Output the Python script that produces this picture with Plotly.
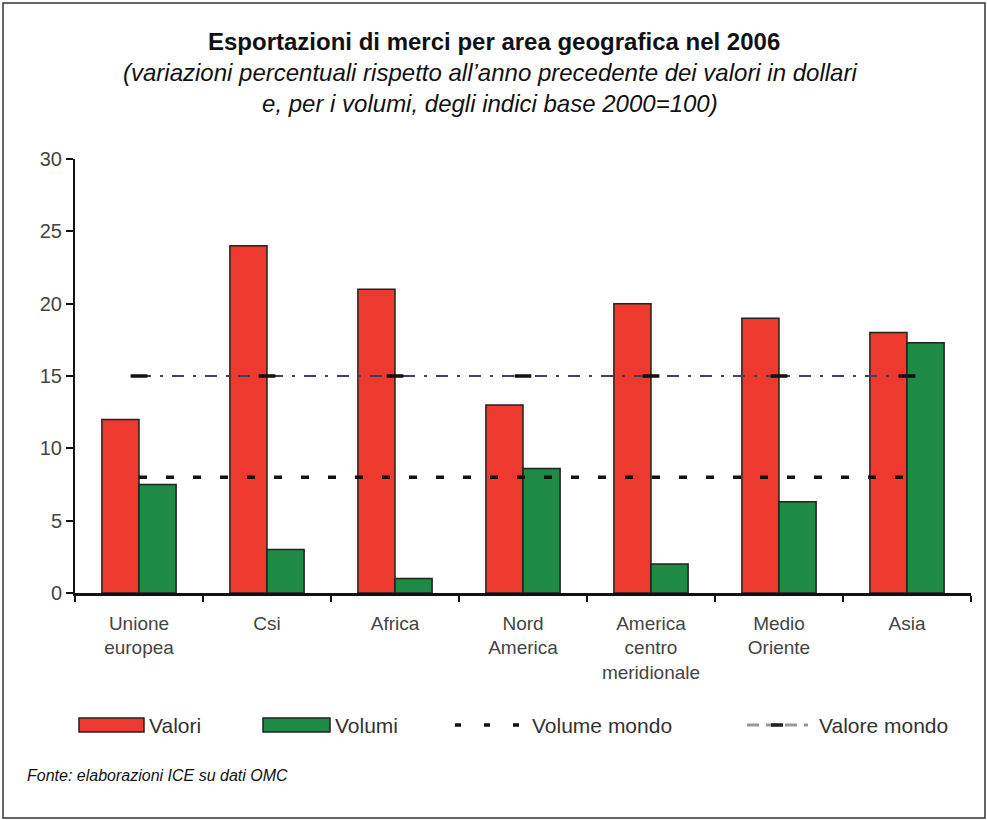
import plotly.graph_objects as go

categories = ["Unione europea", "Csi", "Africa", "Nord America",
              "America centro meridionale", "Medio Oriente", "Asia"]
tick_labels = ["Unione<br>europea", "Csi", "Africa", "Nord<br>America",
               "America<br>centro<br>meridionale", "Medio<br>Oriente", "Asia"]
valori = [12, 24, 21, 13, 20, 19, 18]
volumi = [7.5, 3, 1, 8.6, 2, 6.3, 17.3]
volume_mondo = [8, 8, 8, 8, 8, 8, 8]
valore_mondo = [15, 15, 15, 15, 15, 15, 15]

W, H = 987, 820
L, R, T, B = 75, 16, 159, 227
PW, PH = W - L - R, H - T - B


def xp(px):
    return (px - L) / PW


def yp(py):
    return (H - B - py) / PH


RED = "#ee3a2e"
GREEN = "#1f8a46"
FONT = "Liberation Sans, Arial, sans-serif"

fig = go.Figure()
fig.add_trace(go.Bar(x=categories, y=valori, name="Valori",
                     marker=dict(color=RED, line=dict(color="#222", width=1.5))))
fig.add_trace(go.Bar(x=categories, y=volumi, name="Volumi",
                     marker=dict(color=GREEN, line=dict(color="#222", width=1.5))))
fig.add_trace(go.Scatter(x=categories, y=volume_mondo, name="Volume mondo",
                         mode="lines",
                         line=dict(color="#111", width=3.5, dash="8px,19px")))
fig.add_trace(go.Scatter(x=categories, y=valore_mondo, name="Valore mondo",
                         mode="lines+markers",
                         line=dict(color="#3c4266", width=1.8, dash="12px,9px,3px,9px"),
                         marker=dict(symbol="line-ew", size=12,
                                     line=dict(color="#111", width=3.5))))

shapes = []
annotations = []

# figure border
shapes.append(dict(type="rect", xref="paper", yref="paper",
                   x0=xp(3), x1=xp(985), y0=yp(818), y1=yp(3),
                   line=dict(color="#333", width=1.5), layer="below"))

# title
annotations.append(dict(xref="paper", yref="paper", x=xp(494), y=yp(42),
                        text="<b>Esportazioni di merci per area geografica nel 2006</b>",
                        showarrow=False, font=dict(size=24, color="#111", family=FONT),
                        xanchor="center", yanchor="middle"))
annotations.append(dict(xref="paper", yref="paper", x=xp(490), y=yp(88),
                        text="<i>(variazioni percentuali rispetto all\u2019anno precedente dei valori in dollari<br>e, per i volumi, degli indici base 2000=100)</i>",
                        showarrow=False, font=dict(size=24, color="#111", family=FONT),
                        xanchor="center", yanchor="middle", align="center"))

# legend (drawn)
LY0, LY1, LYC = 718, 732, 725
shapes.append(dict(type="rect", xref="paper", yref="paper",
                   x0=xp(79), x1=xp(144), y0=yp(LY1), y1=yp(LY0),
                   fillcolor=RED, line=dict(color="#222", width=1.5)))
shapes.append(dict(type="rect", xref="paper", yref="paper",
                   x0=xp(263), x1=xp(330), y0=yp(LY1), y1=yp(LY0),
                   fillcolor=GREEN, line=dict(color="#222", width=1.5)))
shapes.append(dict(type="line", xref="paper", yref="paper",
                   x0=xp(455), x1=xp(519), y0=yp(LYC), y1=yp(LYC),
                   line=dict(color="#111", width=3.5, dash="6px,23px")))
shapes.append(dict(type="line", xref="paper", yref="paper",
                   x0=xp(747), x1=xp(808), y0=yp(LYC), y1=yp(LYC),
                   line=dict(color="#999", width=3, dash="12px,7px")))
shapes.append(dict(type="line", xref="paper", yref="paper",
                   x0=xp(771), x1=xp(783), y0=yp(LYC), y1=yp(LYC),
                   line=dict(color="#222", width=3.5)))
for x, txt in [(147, "Valori"), (333, "Volumi"), (530, "Volume mondo"), (817, "Valore mondo")]:
    annotations.append(dict(xref="paper", yref="paper", x=xp(x), y=yp(LYC),
                            text=txt, showarrow=False, xanchor="left", yanchor="middle",
                            font=dict(size=21, color="#333", family=FONT)))

# source
annotations.append(dict(xref="paper", yref="paper", x=xp(25), y=yp(775),
                        text="<i>Fonte: elaborazioni ICE su dati OMC</i>",
                        showarrow=False, xanchor="left", yanchor="middle",
                        font=dict(size=16, color="#111", family=FONT)))

fig.update_layout(
    width=W, height=H,
    margin=dict(l=L, r=R, t=T, b=B),
    paper_bgcolor="white", plot_bgcolor="white",
    barmode="group", bargap=0.42, bargroupgap=0,
    showlegend=False,
    shapes=shapes, annotations=annotations,
    font=dict(family=FONT, size=19, color="#444"),
)
fig.update_xaxes(tickmode="array", tickvals=categories, ticktext=tick_labels,
                 tickson="boundaries", ticks="outside", ticklen=6, tickwidth=2,
                 tickcolor="#111", showline=True, linecolor="#111", linewidth=2.5,
                 showgrid=False, tickfont=dict(size=19, color="#444"),
                 ticklabelstandoff=11)
fig.update_yaxes(range=[0, 30], tickvals=[0, 5, 10, 15, 20, 25, 30],
                 ticks="outside", ticklen=7, tickwidth=1.5, tickcolor="#111",
                 showline=True, linecolor="#111", linewidth=2, showgrid=False,
                 zeroline=False, tickfont=dict(size=20, color="#444"))

fig.write_html("out.html", config={"displayModeBar": False},
               post_script="document.body.style.margin='0';document.body.style.overflow='hidden';")
